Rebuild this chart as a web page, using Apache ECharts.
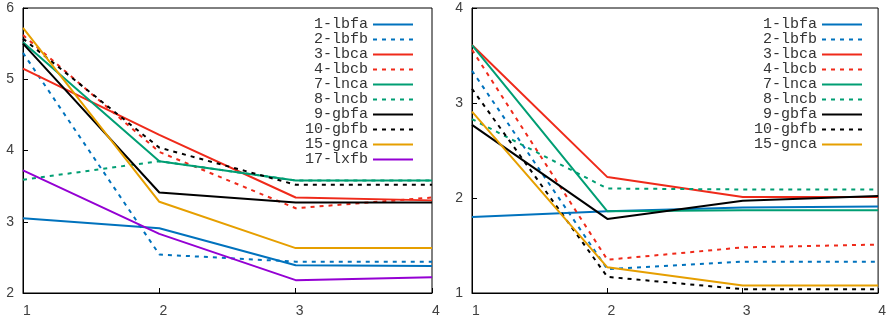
<!DOCTYPE html>
<html>
<head>
<meta charset="utf-8">
<script src="https://cdn.jsdelivr.net/npm/echarts@6/dist/echarts.min.js"></script>
<style>
	html, body { margin: 0; padding: 0; background: #fff; }
	#chart { width: 889px; height: 320px; }
</style>
</head>
<body>
<div id="chart"></div>
<script>
// x 轴
const xData = [1, 2, 3, 4]

// 左图
const leftNames = ['1-lbfa', '2-lbfb', '3-lbca', '4-lbcb', '7-lnca', '8-lncb', '9-gbfa', '10-gbfb', '15-gnca', '17-lxfb']
const leftLbfa = [3.05, 2.91, 2.39, 2.38]
const leftLbfb = [5.37, 2.54, 2.44, 2.44]
const leftLbca = [5.15, 4.22, 3.34, 3.3]
const leftLbcb = [5.62, 3.98, 3.19, 3.34]
const leftLnca = [5.52, 3.85, 3.58, 3.58]
const leftLncb = [3.59, 3.85, 3.58, 3.58]
const leftGbfa = [5.5, 3.41, 3.27, 3.27]
const leftGbfb = [5.57, 4.04, 3.52, 3.52]
const leftGnca = [5.72, 3.28, 2.63, 2.63]
const leftLxfb = [3.72, 2.83, 2.18, 2.22]

// 右图
const rightNames = ['1-lbfa', '2-lbfb', '3-lbca', '4-lbcb', '7-lnca', '8-lncb', '9-gbfa', '10-gbfb', '15-gnca']
const rightLbfa = [1.8, 1.86, 1.9, 1.91]
const rightLbfb = [3.34, 1.25, 1.33, 1.33]
const rightLbca = [3.61, 2.22, 2.01, 2.01]
const rightLbcb = [3.56, 1.35, 1.48, 1.51]
const rightLnca = [3.61, 1.86, 1.87, 1.87]
const rightLncb = [2.83, 2.1, 2.09, 2.09]
const rightGbfa = [2.77, 1.78, 1.97, 2.02]
const rightGbfb = [3.15, 1.17, 1.04, 1.04]
const rightGnca = [2.91, 1.27, 1.08, 1.08]

const leftValues = [leftLbfa, leftLbfb, leftLbca, leftLbcb, leftLnca, leftLncb, leftGbfa, leftGbfb, leftGnca, leftLxfb]
const rightValues = [rightLbfa, rightLbfb, rightLbca, rightLbcb, rightLnca, rightLncb, rightGbfa, rightGbfb, rightGnca]

// 线型
const styleMap = new Map([
	['1-lbfa', { color: '#0072bd', dashed: false }],
	['2-lbfb', { color: '#0072bd', dashed: true }],
	['3-lbca', { color: '#ef2a1a', dashed: false }],
	['4-lbcb', { color: '#ef2a1a', dashed: true }],
	['7-lnca', { color: '#009e73', dashed: false }],
	['8-lncb', { color: '#009e73', dashed: true }],
	['9-gbfa', { color: '#000000', dashed: false }],
	['10-gbfb', { color: '#000000', dashed: true }],
	['15-gnca', { color: '#e69f00', dashed: false }],
	['17-lxfb', { color: '#9400d3', dashed: false }],
])

function buildSeries(names, values, axisIndex) {
	let list = []
	names.forEach((name, index) => {
		const st = styleMap.get(name)
		list.push({
			name: name,
			type: 'line',
			xAxisIndex: axisIndex,
			yAxisIndex: axisIndex,
			symbol: 'none',
			silent: true,
			color: st.color,
			lineStyle: {
				color: st.color,
				width: 2,
				type: st.dashed ? [4, 5] : 'solid',
			},
			data: xData.map((x, i) => [x, values[index][i]]),
		})
	})
	return list
}

function buildLegend(names, left) {
	return {
		data: names,
		orient: 'vertical',
		left: left,
		top: 12,
		align: 'right',
		itemWidth: 40,
		itemHeight: 15,
		itemGap: 0,
		selectedMode: false,
		itemStyle: { opacity: 0 },
		lineStyle: { width: 2 },
		textStyle: {
			fontFamily: 'Liberation Mono',
			fontSize: 15,
			lineHeight: 15,
			color: '#333',
			width: 70,
			align: 'right',
		},
	}
}

function buildXAxis(gridIndex) {
	return {
		type: 'value',
		gridIndex: gridIndex,
		min: 1,
		max: 4,
		interval: 1,
		axisLine: { show: true, lineStyle: { color: '#000', width: 1 } },
		axisTick: { show: true, inside: true, length: 5, lineStyle: { color: '#000' } },
		axisLabel: {
			color: '#404040',
			fontFamily: 'Liberation Sans',
			fontSize: 14,
			margin: 11,
			padding: [0, 0, 0, 8],
			showMinLabel: true,
			showMaxLabel: true,
		},
		splitLine: { show: false },
	}
}

function buildYAxis(gridIndex, min, max) {
	return {
		type: 'value',
		gridIndex: gridIndex,
		min: min,
		max: max,
		interval: 1,
		axisLine: { show: true, lineStyle: { color: '#000', width: 1 } },
		axisTick: { show: true, inside: true, length: 5, lineStyle: { color: '#000' } },
		axisLabel: {
			color: '#404040',
			fontFamily: 'Liberation Sans',
			fontSize: 14,
			margin: 9,
		},
		splitLine: { show: false },
	}
}

const charEle = document.getElementById('chart')
let myChart = echarts.init(charEle, null, { renderer: 'canvas' })
let option = {
	animation: false,
	backgroundColor: '#fff',
	grid: [
		{ left: 23, top: 8, width: 409, height: 285, show: true, borderColor: '#000', borderWidth: 1 },
		{ left: 472, top: 8, width: 409, height: 285, show: true, borderColor: '#000', borderWidth: 1 },
	],
	legend: [buildLegend(leftNames, 293), buildLegend(rightNames, 742)],
	xAxis: [buildXAxis(0), buildXAxis(1)],
	yAxis: [buildYAxis(0, 2, 6), buildYAxis(1, 1, 4)],
	series: buildSeries(leftNames, leftValues, 0).concat(buildSeries(rightNames, rightValues, 1)),
}
myChart.setOption(option)
// 自适应
window.addEventListener('resize', () => {
	myChart.resize()
})
</script>
</body>
</html>
